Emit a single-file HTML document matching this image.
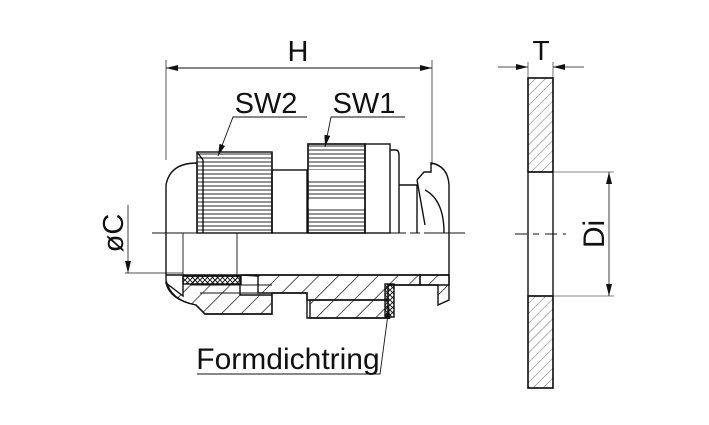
<!DOCTYPE html>
<html><head><meta charset="utf-8"><style>
html,body{margin:0;padding:0;background:#fff;width:709px;height:425px;overflow:hidden}
svg{display:block}
text{font-family:"Liberation Sans",sans-serif;fill:#111}
</style></head><body>
<svg width="709" height="425" viewBox="0 0 709 425" xmlns="http://www.w3.org/2000/svg">
<defs>
<pattern id="h" width="14" height="14" patternUnits="userSpaceOnUse" patternTransform="rotate(45)">
<line x1="0" y1="0" x2="0" y2="14" stroke="#111" stroke-width="1.4"/></pattern>
<pattern id="hw" width="7" height="7" patternUnits="userSpaceOnUse" patternTransform="rotate(45)">
<line x1="0" y1="0" x2="0" y2="7" stroke="#333" stroke-width="0.7"/></pattern>
<pattern id="x" width="5" height="5" patternUnits="userSpaceOnUse">
<path d="M0 0L5 5M5 0L0 5" stroke="#111" stroke-width="0.9"/></pattern>
<pattern id="r" width="4" height="4" patternUnits="userSpaceOnUse">
<line x1="0" y1="2" x2="4" y2="2" stroke="#111" stroke-width="0.9"/></pattern>
<marker id="a" markerWidth="12" markerHeight="6" refX="12" refY="3" orient="auto" markerUnits="userSpaceOnUse">
<path d="M0 0L12 3L0 6Z" fill="#111"/></marker>
</defs>
<g fill="none" stroke="#111" stroke-width="1.4">
<line x1="166" y1="60" x2="166" y2="160" stroke-width="0.7"/>
<line x1="432" y1="60" x2="432" y2="165" stroke-width="0.7"/>
<line x1="180" y1="68" x2="166" y2="68" marker-end="url(#a)" stroke-width="0.9"/>
<line x1="166" y1="68" x2="432" y2="68" stroke-width="0.9" marker-end="url(#a)"/>
<path d="M197 233V163Q170 163 166 185V233"/>
<rect x="197" y="152" width="75" height="81" fill="url(#r)"/>
<path d="M197 152L203 160V233M272 152V233"/>
<rect x="272" y="170" width="35" height="63"/>
<rect x="308" y="144" width="57" height="89" fill="url(#r)"/>
<rect x="308" y="170" width="57" height="10" fill="#fff" stroke="none"/>
<rect x="308" y="200" width="57" height="8" fill="#fff" stroke="none"/>
<rect x="308" y="144" width="57" height="89"/>
<rect x="365" y="144" width="25" height="89"/>
<path d="M390 150H396Q399 150 399 156V233"/>
<path d="M399 185H417V233"/>
<path d="M417 180L424 172H431V163Q448 166 449 185V233M425 190Q444 200 444 233M417 180L425 225"/>
<line x1="152" y1="233" x2="465" y2="233" stroke-width="0.9" stroke-dasharray="50 4 10 4"/>
<path d="M166 233V280Q170 300 196 305L205 314H272V293H307V318H388V285H449V233"/>
<path d="M183 233V275M237 233V275" stroke-width="0.9"/>
<rect x="183" y="276" width="58" height="8" fill="url(#x)"/>
<path d="M166 283Q170 300 196 305L205 314H272V295H240V276H183V296Z" fill="url(#h)"/>
<path d="M241 275H420V285H388V300H307V293H258V276Z" fill="url(#h)"/>
<path d="M310 300H388V318H310Z" fill="url(#h)"/>
<path d="M166 275H449"/>
<path d="M420 275H449V300L438 305V285H420Z" fill="url(#h)"/>
<rect x="385" y="284" width="9" height="33" fill="url(#x)"/>
<path d="M190 285H272M200 293H258" stroke-width="0.9"/>
<line x1="125" y1="273" x2="183" y2="273" stroke-width="0.7"/>
<line x1="128" y1="205" x2="128" y2="273" stroke-width="0.8" marker-end="url(#a)"/>
<path d="M307 117H233L218 156" stroke-width="0.9" marker-end="url(#a)"/>
<path d="M405 117H331L325 147" stroke-width="0.9" marker-end="url(#a)"/>
<path d="M197 374H380L389 307" stroke-width="0.9" marker-end="url(#a)"/>
<rect x="528" y="78" width="25" height="94" fill="url(#hw)"/>
<rect x="528" y="296" width="25" height="92" fill="url(#hw)"/>
<rect x="528" y="78" width="25" height="310"/>
<line x1="528" y1="172" x2="553" y2="172"/>
<line x1="528" y1="296" x2="553" y2="296"/>
<line x1="515" y1="234" x2="566" y2="234" stroke-width="0.9" stroke-dasharray="12 6 6 6"/>
<line x1="528" y1="62" x2="528" y2="78" stroke-width="0.6"/>
<line x1="553" y1="62" x2="553" y2="78" stroke-width="0.6"/>
<line x1="498" y1="67" x2="528" y2="67" stroke-width="0.8" marker-end="url(#a)"/>
<line x1="584" y1="67" x2="553" y2="67" stroke-width="0.8" marker-end="url(#a)"/>
<line x1="553" y1="172" x2="614" y2="172" stroke-width="0.6"/>
<line x1="553" y1="296" x2="614" y2="296" stroke-width="0.6"/>
<line x1="609" y1="234" x2="609" y2="172" stroke-width="0.8" marker-end="url(#a)"/>
<line x1="609" y1="234" x2="609" y2="296" stroke-width="0.8" marker-end="url(#a)"/>
</g>
<text x="298" y="61" font-size="29" text-anchor="middle">H</text>
<text x="266" y="113" font-size="29" text-anchor="middle">SW2</text>
<text x="364" y="113" font-size="29" text-anchor="middle">SW1</text>
<text x="541" y="60" font-size="28" text-anchor="middle">T</text>
<text x="288" y="369" font-size="30" text-anchor="middle">Formdichtring</text>
<text transform="translate(123,233) rotate(-90)" font-size="29" text-anchor="middle">øC</text>
<text transform="translate(604,234) rotate(-90)" font-size="30" text-anchor="middle">Di</text>
</svg>
</body></html>
